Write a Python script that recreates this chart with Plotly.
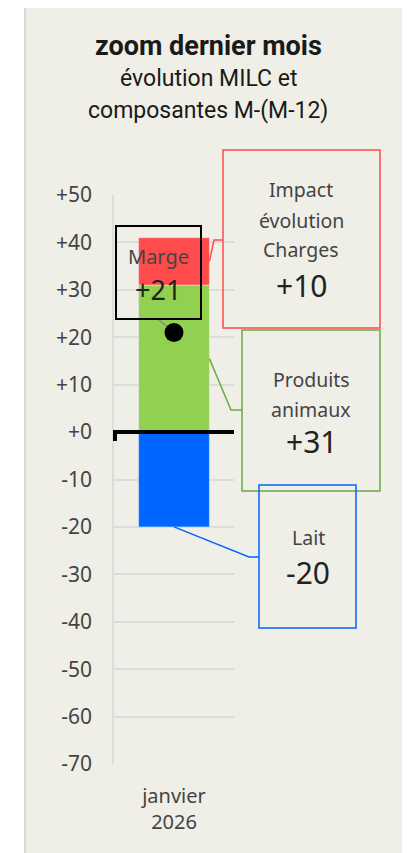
import plotly.graph_objects as go

# données
categorie = ["janvier<br>2026"]
lait = [-20]
produits = [31]
charges = [10]
marge = [21]

tick_vals = [50, 40, 30, 20, 10, 0, -10, -20, -30, -40, -50, -60, -70]
tick_text = ["+50", "+40", "+30", "+20", "+10", "+0", "-10", "-20", "-30", "-40", "-50", "-60", "-70"]

BLEU = "#0066ff"
VERT = "#92d050"
ROUGE = "#ff4b4b"
VERT_CADRE = "#6aab45"
FOND = "#efefe7"
TXT = "#444444"
FONT = "Noto Sans"

# la page décale la figure de 8 px (marge du body)
OFF = 8
W, H = 410, 853
PX0, PX1, PY0, PY1 = 114, 234, 195, 764   # zone de tracé, en pixels de page
L, R, T, B = PX0 - OFF, W - (PX1 - OFF), PY0 - OFF, H - (PY1 - OFF)
PW, PH = PX1 - PX0, PY1 - PY0
YMIN, YMAX = -70, 50
BAR_W = 0.59


def px(x):
    return (x - PX0) / PW


def py(y):
    return (PY1 - y) / PH


def yv(v):
    return (v - YMIN) / (YMAX - YMIN)


fig = go.Figure()

fig.add_trace(go.Bar(x=categorie, y=lait, marker_color=BLEU, width=BAR_W, name="Lait"))
fig.add_trace(go.Bar(x=categorie, y=produits, marker_color=VERT, width=BAR_W, name="Produits animaux"))
fig.add_trace(go.Bar(x=categorie, y=charges, marker_color=ROUGE, width=BAR_W, name="Impact évolution Charges"))

# trait entre cadre "Marge" et le point
marge_box_bas = YMAX - (319 - PY0) * (YMAX - YMIN) / PH
fig.add_trace(go.Scatter(
    x=[-0.133, 0], y=[marge_box_bas, marge[0]],
    xaxis="x2", mode="lines", line=dict(color="#888888", width=1.5),
    hoverinfo="skip"
))
fig.add_trace(go.Scatter(
    x=[0], y=marge, xaxis="x2", mode="markers",
    marker=dict(color="black", size=19), name="Marge"
))

bar_edge = 0.5 + BAR_W / 2
shapes = []

# fond du panneau
shapes.append(dict(type="rect", xref="paper", yref="paper", layer="below",
                   x0=px(25), x1=px(407), y0=py(870), y1=py(3),
                   fillcolor=FOND, line=dict(color="#d9d9d9", width=2)))

# ligne zéro
shapes.append(dict(type="path", xref="paper", yref="paper",
                   path=f"M {px(115)},{py(441)} L {px(115)},{yv(0)} L {px(234)},{yv(0)}",
                   line=dict(color="black", width=4)))

# cadres
boxes = [
    (116, 201, 226, 319, "black", 2),
    (223, 380, 150, 328, ROUGE, 1.5),
    (242, 380, 330, 491, VERT_CADRE, 1.5),
    (259, 356, 485, 628, BLEU, 1.5),
]
for x0, x1, y0, y1, c, w in boxes:
    shapes.append(dict(type="rect", xref="paper", yref="paper",
                       x0=px(x0), x1=px(x1), y0=py(y0), y1=py(y1),
                       line=dict(color=c, width=w)))

# connecteurs
ch_mid = produits[0] + charges[0] / 2
pr_mid = produits[0] / 2
shapes.append(dict(type="path", xref="paper", yref="paper",
                   path=f"M {bar_edge},{yv(ch_mid)} L {px(214)},{py(240)} L {px(223)},{py(240)}",
                   line=dict(color=ROUGE, width=1.5)))
shapes.append(dict(type="path", xref="paper", yref="paper",
                   path=f"M {bar_edge},{yv(pr_mid)} L {px(231)},{py(410)} L {px(242)},{py(410)}",
                   line=dict(color=VERT_CADRE, width=1.5)))
shapes.append(dict(type="path", xref="paper", yref="paper",
                   path=f"M 0.5,{yv(lait[0])} L {px(249)},{py(557)} L {px(259)},{py(557)}",
                   line=dict(color=BLEU, width=1.5)))

annotations = []


def txt(x, y, s, size, color=TXT, family=FONT):
    annotations.append(dict(x=px(x), y=py(y), xref="paper", yref="paper", text=s,
                            showarrow=False, xanchor="center", yanchor="middle",
                            font=dict(size=size, color=color, family=family)))


# titre
txt(208, 46, "<b>zoom dernier mois</b>", 27, "#1a1a1a", "Roboto")
txt(208, 79, "évolution MILC et", 23, "#1a1a1a", "Roboto")
txt(208, 110, "composantes M-(M-12)", 23, "#1a1a1a", "Roboto")

# étiquettes
txt(158, 256, "Marge", 20)
txt(158, 289, f"{marge[0]:+d}", 27, "#222222")

txt(301, 190, "Impact", 19.5)
txt(301, 220, "évolution", 19.5)
txt(301, 250, "Charges", 19.5)
txt(301, 285, f"{charges[0]:+d}", 30, "#222222")

txt(311, 379, "Produits", 19.5)
txt(311, 409, "animaux", 19.5)
txt(311, 441, f"{produits[0]:+d}", 30, "#222222")

txt(308, 537, "Lait", 19.5)
txt(308, 572, f"{lait[0]:+d}", 30, "#222222")

fig.update_layout(
    width=W, height=H,
    margin=dict(l=L, r=R, t=T, b=B),
    barmode="relative",
    showlegend=False,
    paper_bgcolor="white",
    plot_bgcolor="rgba(0,0,0,0)",
    font=dict(family=FONT, color=TXT),
    shapes=shapes,
    annotations=annotations,
    xaxis=dict(range=[-0.5, 0.5], showgrid=False, zeroline=False, showline=False,
               ticks="", tickfont=dict(size=20, color=TXT), ticklabelstandoff=18),
    xaxis2=dict(range=[-0.5, 0.5], overlaying="x", visible=False),
    yaxis=dict(range=[YMIN, YMAX], tickvals=tick_vals, ticktext=tick_text,
               showgrid=True, gridcolor="#dcdcdc", gridwidth=1.5,
               showline=True, linecolor="#dcdcdc", linewidth=1.5,
               zeroline=False, ticks="", ticklabelstandoff=16,
               tickfont=dict(size=21, color=TXT)),
)

fig.write_html("out.html")
